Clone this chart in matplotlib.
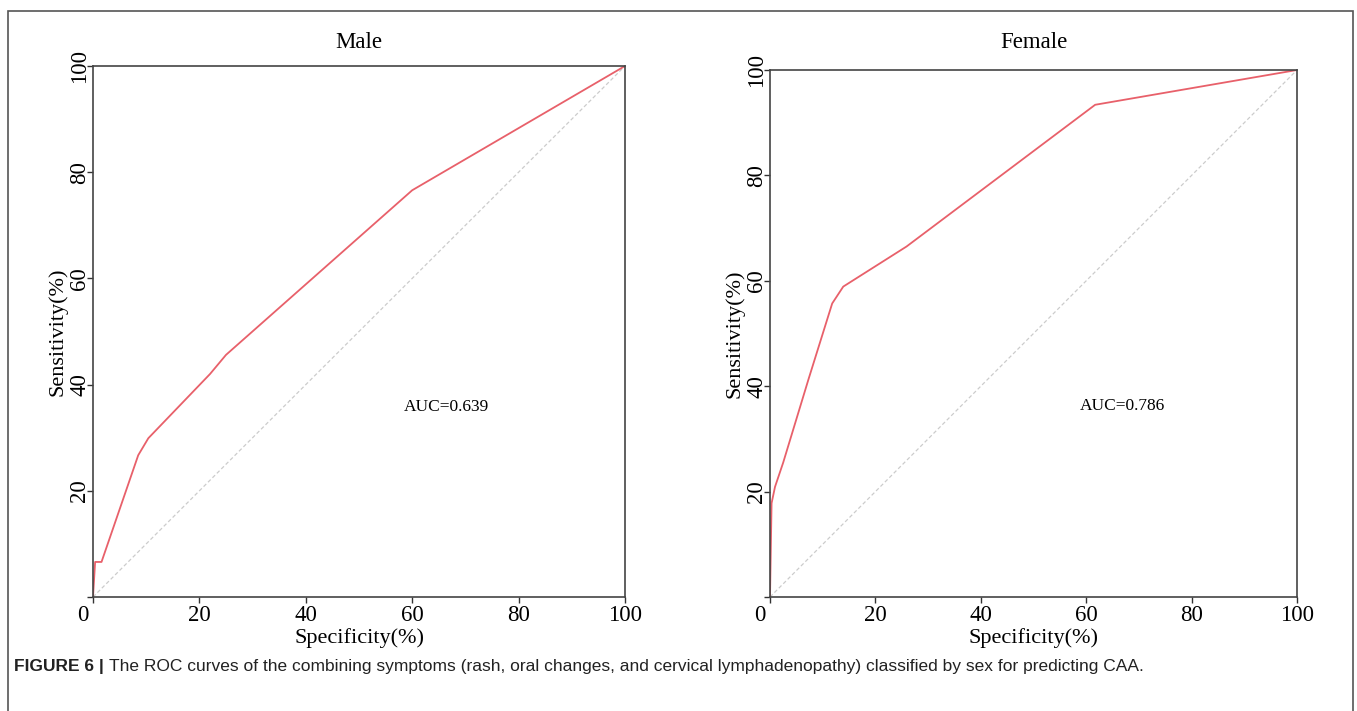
import matplotlib.pyplot as plt
import matplotlib.transforms as mtransforms
from matplotlib.patches import Rectangle

# ROC points (specificity axis as drawn, sensitivity)
male_x = [0, 0.4, 0.5, 1.6, 8.5, 10.4, 22.0, 25.0, 60.0, 100]
male_y = [0, 6.6, 6.6, 6.6, 26.7, 29.9, 42.0, 45.6, 76.6, 100]
female_x = [0, 0.3, 0.95, 2.5, 7.3, 11.8, 13.9, 25.9, 61.7, 100]
female_y = [0, 17.8, 20.9, 25.5, 41.3, 55.7, 58.9, 66.5, 93.4, 100]

titles = ['Male', 'Female']
auc_labels = ['AUC=0.639', 'AUC=0.786']
auc_pos = [(66.4, 35.8), (66.8, 36.2)]
ticks = [0, 20, 40, 60, 80, 100]
xtick_labels = ['0', '20', '40', '60', '80', '100']
ytick_labels = ['', '20', '40', '60', '80', '100']

caption_bold = 'FIGURE 6 |'
caption_rest = ('The ROC curves of the combining symptoms (rash, oral changes, and '
                'cervical lymphadenopathy) classified by sex for predicting CAA.')

W, H = 1357, 711
fig = plt.figure(figsize=(W / 100, H / 100), dpi=100)
plt.rcParams['font.family'] = ['Liberation Serif', 'DejaVu Serif']

# outer frame of the figure panel
fig.patches.append(Rectangle((8 / W, -0.05), (1353 - 8) / W, 1.05 - 11 / H,
                             transform=fig.transFigure, fill=False,
                             edgecolor='#555555', linewidth=1.2))

boxes = [(93, 66, 625, 597), (770, 70, 1297, 597)]
data = [(male_x, male_y), (female_x, female_y)]

for i, (l, t, r, b) in enumerate(boxes):
    ax = fig.add_axes([l / W, 1 - b / H, (r - l) / W, (b - t) / H])
    xs, ys = data[i]
    ax.plot([0, 100], [0, 100], color='#cccccc', lw=0.9, ls=(0, (3, 2)))
    ax.plot(xs, ys, color='#e8606a', lw=1.3)
    ax.set_xlim(0, 100)
    ax.set_ylim(0, 100)
    ax.set_xticks(ticks, xtick_labels)
    ax.set_yticks(ticks, ytick_labels)
    ax.tick_params(direction='out', length=4, width=1, colors='#333333',
                   labelsize=16.5, labelcolor='black', pad=2)
    ax.tick_params(axis='y', pad=-2)
    for lab in ax.get_yticklabels():
        lab.set_rotation(90)
        lab.set_va('center')
    # the corner "0" sits a little left of the axis origin
    shift = mtransforms.ScaledTranslation(-10 / 100, 0, fig.dpi_scale_trans)
    zero = ax.get_xticklabels()[0]
    zero.set_transform(zero.get_transform() + shift)
    for s in ax.spines.values():
        s.set_color('#444444')
        s.set_linewidth(1.2)
    ax.set_xlabel('Specificity(%)', fontsize=16, labelpad=1)
    ax.set_ylabel('Sensitivity(%)', fontsize=16, va='center')
    ax.yaxis.set_label_coords(-35 / (r - l), 0.5)
    ax.set_title(titles[i], fontsize=16.5, pad=(t - 48) * 0.72)
    ax.text(auc_pos[i][0], auc_pos[i][1], auc_labels[i], fontsize=12.5,
            ha='center', va='center')

cap_y = 1 - 667 / H
t1 = fig.text(14 / W, cap_y, caption_bold, fontsize=12.5, fontweight='bold',
              family=['Liberation Sans', 'DejaVu Sans'], va='center', color='#222222')
fig.canvas.draw()
bb = t1.get_window_extent(fig.canvas.get_renderer())
fig.text((bb.x1 + 5) / W, cap_y, caption_rest, fontsize=12.5,
         family=['Liberation Sans', 'DejaVu Sans'], va='center', color='#222222')

fig.savefig('out.png', dpi=100)
